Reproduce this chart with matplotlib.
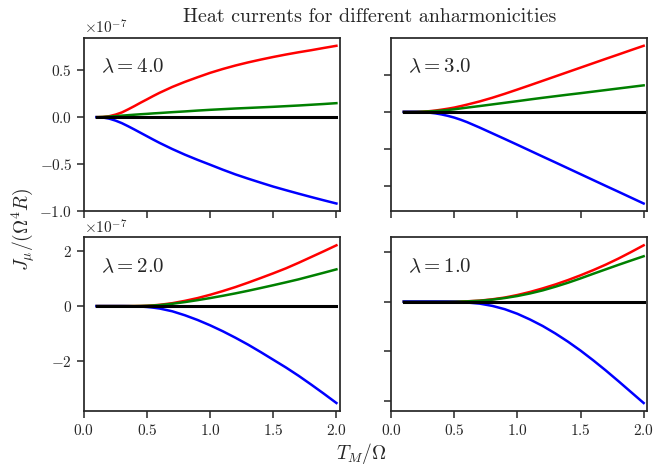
import matplotlib
matplotlib.use("Agg")
import matplotlib.pyplot as plt

plt.rcParams.update({
    "font.family": "cmr10",
    "mathtext.fontset": "cm",
    "axes.formatter.use_mathtext": True,
    "axes.edgecolor": "#262626",
    "axes.linewidth": 1.25,
    "text.color": "#262626",
    "xtick.color": "#262626",
    "ytick.color": "#262626",
    "xtick.direction": "out",
    "ytick.direction": "out",
    "xtick.major.size": 5,
    "ytick.major.size": 5,
    "xtick.major.width": 1.1,
    "ytick.major.width": 1.1,
    "xtick.labelsize": 11,
    "ytick.labelsize": 11,
})

# temperature grid T_M / Omega
T = [0.1, 0.15, 0.2, 0.25, 0.3, 0.35, 0.4, 0.45, 0.5, 0.55, 0.6,
     0.7, 0.8, 0.9, 1.0, 1.1, 1.2, 1.3, 1.4, 1.5, 1.6, 1.7, 1.8, 1.9, 2.0]

# heat currents in units of 1e-7, one set per anharmonicity
lam_vals = [4.0, 3.0, 2.0, 1.0]

red_l4 = [0.0, 0.002, 0.01, 0.027, 0.05, 0.083, 0.118, 0.155, 0.19, 0.226, 0.26,
          0.322, 0.376, 0.425, 0.472, 0.513, 0.55, 0.583, 0.613, 0.641, 0.667, 0.691, 0.713, 0.737, 0.76]
green_l4 = [0.0, 0.002, 0.006, 0.011, 0.016, 0.021, 0.026, 0.031, 0.035, 0.04, 0.044,
            0.053, 0.061, 0.07, 0.078, 0.085, 0.092, 0.098, 0.104, 0.11, 0.117, 0.124, 0.132, 0.14, 0.149]
blue_l4 = [0.0, -0.004, -0.016, -0.037, -0.064, -0.097, -0.132, -0.168, -0.204, -0.24, -0.275,
           -0.34, -0.4, -0.455, -0.507, -0.56, -0.61, -0.655, -0.698, -0.74, -0.778, -0.815, -0.851, -0.886, -0.92]

red_l3 = [0.0, 0.0, 0.001, 0.004, 0.009, 0.018, 0.03, 0.043, 0.058, 0.077, 0.097,
          0.14, 0.189, 0.243, 0.3, 0.358, 0.417, 0.476, 0.535, 0.594, 0.653, 0.712, 0.77, 0.829, 0.887]
green_l3 = [0.0, 0.0, 0.001, 0.003, 0.006, 0.011, 0.018, 0.026, 0.035, 0.046, 0.057,
            0.078, 0.1, 0.122, 0.144, 0.167, 0.189, 0.21, 0.231, 0.251, 0.272, 0.293, 0.314, 0.335, 0.356]
blue_l3 = [0.0, 0.0, -0.001, -0.004, -0.01, -0.02, -0.035, -0.054, -0.077, -0.105, -0.137,
           -0.21, -0.287, -0.364, -0.442, -0.521, -0.6, -0.678, -0.757, -0.836, -0.915, -0.994, -1.072, -1.151, -1.23]

red_l2 = [0.0, 0.0, 0.0, 0.0, 0.0, 0.0, 0.001, 0.004, 0.012, 0.026, 0.046,
          0.105, 0.19, 0.29, 0.41, 0.545, 0.69, 0.85, 1.018, 1.19, 1.37, 1.57, 1.78, 1.99, 2.206]
green_l2 = [0.0, 0.0, 0.0, 0.0, 0.0, 0.0, 0.0, 0.003, 0.01, 0.021, 0.036,
            0.083, 0.145, 0.215, 0.291, 0.373, 0.461, 0.555, 0.655, 0.757, 0.862, 0.97, 1.09, 1.21, 1.333]
blue_l2 = [0.0, 0.0, 0.0, 0.0, 0.0, -0.002, -0.008, -0.018, -0.034, -0.058, -0.09,
           -0.19, -0.335, -0.505, -0.70, -0.915, -1.15, -1.4, -1.67, -1.95, -2.23, -2.53, -2.85, -3.18, -3.52]

red_l1 = [0.0, 0.0, 0.0, 0.0, 0.0, 0.0, 0.0, 0.001, 0.003, 0.007, 0.013,
          0.04, 0.093, 0.165, 0.267, 0.39, 0.533, 0.69, 0.867, 1.06, 1.267, 1.49, 1.733, 1.995, 2.267]
green_l1 = [0.0, 0.0, 0.0, 0.0, 0.0, 0.0, 0.0, 0.0, 0.0, 0.004, 0.01,
            0.035, 0.08, 0.145, 0.227, 0.33, 0.453, 0.6, 0.76, 0.935, 1.12, 1.3, 1.48, 1.655, 1.827]
blue_l1 = [0.0, 0.0, 0.0, 0.0, 0.0, 0.0, -0.002, -0.005, -0.01, -0.02, -0.035,
           -0.08, -0.17, -0.305, -0.49, -0.72, -0.98, -1.28, -1.61, -1.97, -2.36, -2.77, -3.2, -3.64, -4.08]

# total current (sum of the three) vanishes
total = [0.0] * len(T)

reds = [red_l4, red_l3, red_l2, red_l1]
greens = [green_l4, green_l3, green_l2, green_l1]
blues = [blue_l4, blue_l3, blue_l2, blue_l1]

fig, axes = plt.subplots(2, 2, sharex=True, figsize=(6.56, 4.68), dpi=100)
fig.subplots_adjust(left=0.128, right=0.986, top=0.919, bottom=0.122, wspace=0.202, hspace=0.15)

for ax, lam, r, g, b in zip(axes.flat, lam_vals, reds, greens, blues):
    ax.plot(T, [v * 1e-7 for v in r], color="r", lw=1.8)
    ax.plot(T, [v * 1e-7 for v in g], color="g", lw=1.8)
    ax.plot(T, [v * 1e-7 for v in b], color="b", lw=1.8)
    ax.plot(T, total, color="k", lw=2.2)
    ax.text(0.065, 0.83, r"$\lambda = %.1f$" % lam, transform=ax.transAxes,
            fontsize=15, va="center", ha="left")
    ax.set_xticks([0.0, 0.5, 1.0, 1.5, 2.0])
    ax.set_xlim(0.0, 2.025)

for ax in axes[:, 1]:
    ax.tick_params(labelleft=False)
    ax.yaxis.offsetText.set_visible(False)

fig.text(0.564, 0.964, "Heat currents for different anharmonicities", ha="center", va="center", fontsize=14.4)
fig.text(0.551, 0.032, r"$T_M/\Omega$", ha="center", va="center", fontsize=14)
fig.text(0.036, 0.509, r"$J_\mu/(\Omega^4 R)$", ha="center", va="center", rotation=90, fontsize=14)

fig.savefig("out.png", dpi=100)
